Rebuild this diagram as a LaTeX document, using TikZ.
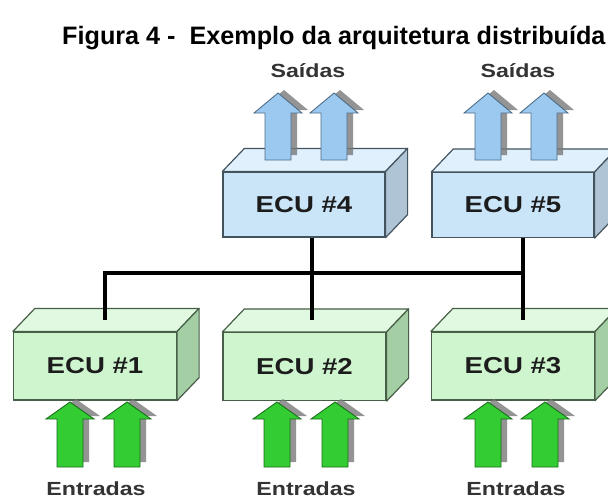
\documentclass[tikz,border=0pt]{standalone}
\usepackage{fontspec}
\setmainfont{Liberation Sans}
\definecolor{bfront}{HTML}{CAE4F8}
\definecolor{btop}{HTML}{E0F0FC}
\definecolor{bside}{HTML}{AFC4D4}
\definecolor{bedge}{HTML}{44545F}
\definecolor{gfront}{HTML}{CFF5CF}
\definecolor{gtop}{HTML}{E0F9E0}
\definecolor{gside}{HTML}{A4CFA4}
\definecolor{gedge}{HTML}{475F47}
\definecolor{barrow}{HTML}{9CC9F0}
\definecolor{barrowedge}{HTML}{4F6E86}
\definecolor{garrow}{HTML}{33CC33}
\definecolor{garrowedge}{HTML}{1B6E1B}
\definecolor{shadowc}{HTML}{7A7A7A}
\definecolor{textdark}{HTML}{1C1C1C}
\definecolor{labeldark}{HTML}{333333}
\newcommand\ecutxt[1]{\scalebox{1.2}[1]{#1}}
\newcommand\lbltxt[1]{\scalebox{1.22}[1]{#1}}
\newcommand\cubefaces[4]{%
  \filldraw[fill=#2, draw=#4, line width=1.2pt, line join=round]
    (#1.north west) -- ++(22,-23) -- ([shift={(22,-23)}]#1.north east) -- (#1.north east) -- cycle;
  \filldraw[fill=#3, draw=#4, line width=1.2pt, line join=round]
    (#1.north east) -- ++(22,-23) -- ([shift={(22,-23)}]#1.south east) -- (#1.south east) -- cycle;
}
\newcommand\bigarrow[6]{% x, tip y, bottom y, head height, fill, edge
  \fill[shadowc, opacity=0.8] ({#1+6},{#2-3}) -- ({#1+30},{#2+#4-3}) -- ({#1+19},{#2+#4-3})
     -- ({#1+19},{#3-5}) -- ({#1-7},{#3-5}) -- ({#1-7},{#2+#4-3}) -- ({#1-18},{#2+#4-3}) -- cycle;
  \filldraw[fill=#5, draw=#6, line width=0.9pt, line join=miter] (#1,#2) -- ({#1+24},{#2+#4}) -- ({#1+13},{#2+#4})
     -- ({#1+13},#3) -- ({#1-13},#3) -- ({#1-13},{#2+#4}) -- ({#1-24},{#2+#4}) -- cycle;
}
\begin{document}
\begin{tikzpicture}[x=1pt,y=-1pt,
  ecub/.style={draw=bedge, fill=bfront, line width=1.2pt, minimum width=162pt, minimum height=65pt,
     inner sep=0pt, text=textdark, font=\fontsize{23}{23}\selectfont\bfseries},
  ecug/.style={draw=gedge, fill=gfront, line width=1.2pt, minimum width=163pt, minimum height=68pt,
     inner sep=0pt, text=textdark, font=\fontsize{23}{23}\selectfont\bfseries},
  lbl/.style={inner sep=0pt, anchor=base, text=labeldark, font=\fontsize{19}{19}\selectfont\bfseries},
  bus/.style={line width=4pt, black, line join=miter}]
\useasboundingbox (0,0) rectangle (608,499);
\clip (0,0) rectangle (608,499);
\fill[white] (0,0) rectangle (608,499);

\node[anchor=base west, inner sep=0pt, text=black, font=\fontsize{25.2}{25.2}\selectfont\bfseries]
  (title) at (62,44) {Figura 4 -\ \ Exemplo da arquitetura distribu\'ida};

% ECU boxes
\node[ecub] (ecu4) at (304,204.5) {\ecutxt{ECU \#4}};
\node[ecub] (ecu5) at (513,205) {\ecutxt{ECU \#5}};
\node[ecug] (ecu1) at (95,366) {\ecutxt{ECU \#1}};
\node[ecug] (ecu2) at (304.5,366.5) {\ecutxt{ECU \#2}};
\node[ecug] (ecu3) at (513,366) {\ecutxt{ECU \#3}};

\cubefaces{ecu4}{btop}{bside}{bedge}
\cubefaces{ecu5}{btop}{bside}{bedge}
\cubefaces{ecu1}{gtop}{gside}{gedge}
\cubefaces{ecu2}{gtop}{gside}{gedge}
\cubefaces{ecu3}{gtop}{gside}{gedge}

% output arrows
\bigarrow{278}{93}{160}{20}{barrow}{barrowedge}
\bigarrow{334}{93}{160}{20}{barrow}{barrowedge}
\bigarrow{488}{93}{160}{20}{barrow}{barrowedge}
\bigarrow{544}{93}{160}{20}{barrow}{barrowedge}

% input arrows
\bigarrow{70}{402}{467}{17}{garrow}{garrowedge}
\bigarrow{127}{402}{467}{17}{garrow}{garrowedge}
\bigarrow{277}{402}{467}{17}{garrow}{garrowedge}
\bigarrow{335}{402}{467}{17}{garrow}{garrowedge}
\bigarrow{488}{402}{467}{17}{garrow}{garrowedge}
\bigarrow{545}{402}{467}{17}{garrow}{garrowedge}

% bus
\coordinate (j1) at (105,273);
\coordinate (j2) at (312,273);
\coordinate (j3) at (523,273);
\coordinate (e1) at (105,320);
\coordinate (e2) at (312,320);
\coordinate (e3) at (523,320);
\draw[bus] (e1) -- (j1) -- (j3);
\draw[bus] (ecu4.south -| j2) -- (e2);
\draw[bus] (ecu5.south -| j3) -- (e3);

% labels
\node[lbl] (out4) at (308,77) {\lbltxt{Sa\'idas}};
\node[lbl] (out5) at (518,77) {\lbltxt{Sa\'idas}};
\node[lbl] (in1) at (96,495) {\lbltxt{Entradas}};
\node[lbl] (in2) at (306,495) {\lbltxt{Entradas}};
\node[lbl] (in3) at (516,495) {\lbltxt{Entradas}};
\end{tikzpicture}
\end{document}
